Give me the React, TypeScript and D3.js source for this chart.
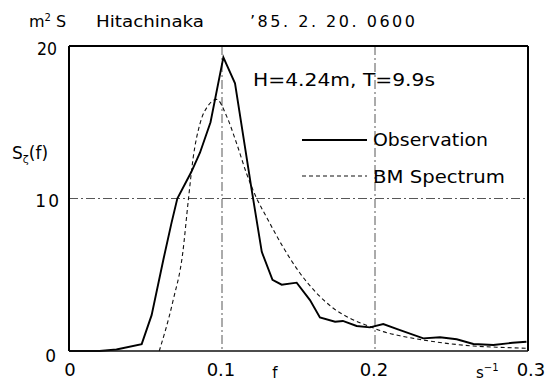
import React from "react";
import * as d3 from "d3";

// Observed wave spectrum (frequency in 1/s, S in m^2·s)
const obsFreq = [0, 0.02, 0.031, 0.0475, 0.054, 0.0617, 0.067, 0.0708, 0.08, 0.0856, 0.0925, 0.1009, 0.1085, 0.1194, 0.126, 0.133, 0.139, 0.1488, 0.1575, 0.164, 0.1739, 0.179, 0.188, 0.1967, 0.2054, 0.215, 0.2316, 0.2425, 0.2534, 0.2643, 0.2773, 0.29, 0.299];
const obsS = [0, 0, 0.1, 0.45, 2.35, 6.0, 8.4, 10.0, 11.75, 13.0, 15.0, 19.26, 17.55, 10.56, 6.5, 4.66, 4.35, 4.48, 3.34, 2.2, 1.92, 1.97, 1.64, 1.55, 1.77, 1.42, 0.83, 0.9, 0.77, 0.46, 0.39, 0.54, 0.61];

// Bretschneider–Mitsuyasu spectrum
const bmFreq = [0.059, 0.068, 0.0743, 0.078, 0.0812, 0.0856, 0.091, 0.0965, 0.103, 0.1096, 0.116, 0.1227, 0.129, 0.14, 0.151, 0.162, 0.1728, 0.1837, 0.1967, 0.2054, 0.2163, 0.2316, 0.2468, 0.2643, 0.2817, 0.299];
const bmS = [0, 3.3, 6.4, 9.9, 12.7, 14.9, 16.1, 16.5, 15.4, 13.6, 11.65, 10.0, 8.8, 6.8, 5.1, 3.78, 2.8, 2.14, 1.6, 1.27, 1.0, 0.72, 0.5, 0.33, 0.24, 0.18];

const xTicks = [0, 0.1, 0.2, 0.3];
const xTickLabels = ["0", "0.1", "0.2", "0.3"];
const yTickLabels = ["0", "10", "20"];
const xGrid = [0.1, 0.2];
const yGrid = [10];

const W = 555;
const H = 383;
const FONT = "'DejaVu Sans', Verdana, sans-serif";

export default function App() {
  const x = d3.scaleLinear().domain([0, 0.3]).range([69, 528]);
  const y = d3.scaleLinear().domain([0, 20]).range([351, 46]);

  const obsLine = d3
    .line<number>()
    .x((_, i) => x(obsFreq[i]))
    .y((d) => y(d))
    .curve(d3.curveLinear)(obsS);

  const bmLine = d3
    .line<number>()
    .x((_, i) => x(bmFreq[i]))
    .y((d) => y(d))
    .curve(d3.curveMonotoneX)(bmS);

  const [x0, x1] = x.range();
  const [y0, y1] = y.range();

  const gridStyle = { stroke: "#444", strokeWidth: 0.9, strokeDasharray: "9 3 2 3", fill: "none" };

  return (
    <svg
      width={W}
      height={H}
      viewBox={`0 0 ${W} ${H}`}
      style={{ position: "fixed", left: 0, top: 0, background: "#fff" }}
      fontFamily={FONT}
    >
      <rect x={0} y={0} width={W} height={H} fill="#fff" />

      {/* grid */}
      {xGrid.map((v) => (
        <line key={"gx" + v} x1={x(v)} x2={x(v)} y1={y1} y2={y0} style={gridStyle} />
      ))}
      {yGrid.map((v) => (
        <line key={"gy" + v} x1={x0} x2={x1} y1={y(v)} y2={y(v)} style={gridStyle} />
      ))}

      {/* curves */}
      <path d={bmLine ?? ""} fill="none" stroke="#111" strokeWidth={1.1} strokeDasharray="4 3" />
      <path d={obsLine ?? ""} fill="none" stroke="#000" strokeWidth={1.9} strokeLinejoin="miter" />

      {/* frame */}
      <line x1={x0} x2={x0} y1={y1} y2={y0} stroke="#000" strokeWidth={2} />
      <line x1={x1} x2={x1} y1={y1} y2={y0} stroke="#000" strokeWidth={2} />
      <line x1={x0} x2={x1} y1={y1} y2={y1} stroke="#000" strokeWidth={2} />
      <line x1={x0} x2={x1} y1={y0} y2={y0} stroke="#111" strokeWidth={1.6} />

      {/* y tick labels */}
      <text x={57} y={y(20) + 9} fontSize={17} textAnchor="end" fill="#000" textLength={20} lengthAdjust="spacingAndGlyphs">{yTickLabels[2]}</text>
      <text x={61} y={y(10) + 8} fontSize={17} textAnchor="end" fill="#000" letterSpacing={2}>{yTickLabels[1]}</text>
      <text x={56} y={y(0) + 11} fontSize={17} textAnchor="end" fill="#000">{yTickLabels[0]}</text>

      {/* x tick labels */}
      {xTicks.map((v, i) => (
        <text
          key={"xt" + v}
          x={i === 0 ? x(v) + 1 : i === 3 ? x(v) + 3 : x(v) - 1}
          y={376}
          fontSize={18}
          textAnchor="middle"
          fill="#000"
        >
          {xTickLabels[i]}
        </text>
      ))}
      <text x={275} y={378} fontSize={15} textAnchor="middle" fill="#000">f</text>
      <text x={476} y={378} fontSize={15} fill="#000">
        s<tspan dy={-7} fontSize={10}>−1</tspan>
      </text>

      {/* y axis label */}
      <text x={12} y={159} fontSize={17} fill="#000">
        S<tspan dy={4} fontSize={11}>ζ</tspan>
        <tspan dy={-4}>(f)</tspan>
      </text>

      {/* header */}
      <text x={29} y={27} fontSize={16} fill="#000">
        m<tspan dy={-6} fontSize={10}>2</tspan>
        <tspan dy={6}> S</tspan>
      </text>
      <text x={96} y={27} fontSize={16} fill="#000" textLength={108} lengthAdjust="spacingAndGlyphs">Hitachinaka</text>
      <text x={250} y={27} fontSize={16} fill="#000" textLength={165} lengthAdjust="spacing">’85. 2. 20. 0600</text>

      {/* wave parameters */}
      <text x={253} y={86} fontSize={17} fill="#000" textLength={182} lengthAdjust="spacingAndGlyphs">H=4.24m, T=9.9s</text>

      {/* legend */}
      <line x1={302} x2={367} y1={140} y2={140} stroke="#000" strokeWidth={1.9} />
      <text x={373} y={146} fontSize={17} fill="#000" textLength={115} lengthAdjust="spacingAndGlyphs">Observation</text>
      <line x1={302} x2={367} y1={176} y2={176} stroke="#111" strokeWidth={1.1} strokeDasharray="4 3" />
      <text x={373} y={183} fontSize={17} fill="#000" textLength={132} lengthAdjust="spacingAndGlyphs">BM Spectrum</text>
    </svg>
  );
}
